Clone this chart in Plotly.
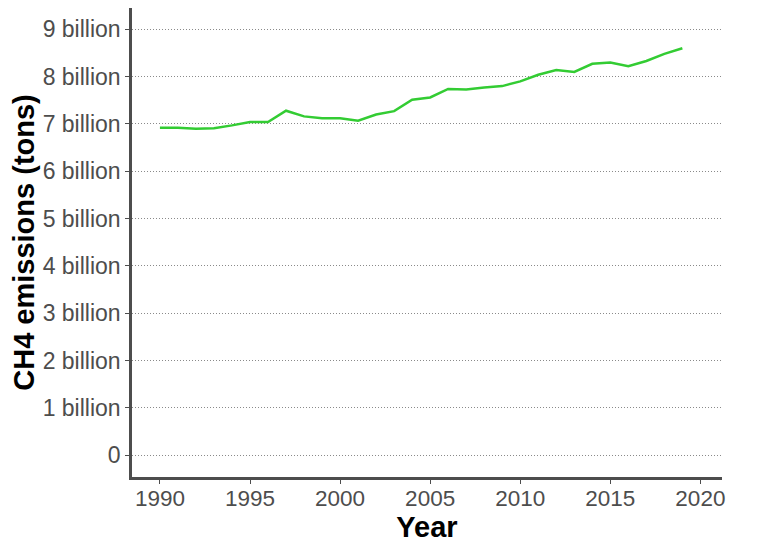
import plotly.graph_objects as go

# CH4 emissions by year (tons)
years = list(range(1990, 2020))
emissions = [
    6.92e9, 6.92e9, 6.90e9, 6.91e9, 6.97e9, 7.04e9, 7.04e9, 7.28e9, 7.16e9, 7.12e9,
    7.12e9, 7.07e9, 7.20e9, 7.27e9, 7.51e9, 7.56e9, 7.74e9, 7.73e9, 7.77e9, 7.80e9,
    7.90e9, 8.04e9, 8.14e9, 8.10e9, 8.27e9, 8.30e9, 8.22e9, 8.33e9, 8.48e9, 8.60e9,
]

y_ticks = [i * 1e9 for i in range(10)]
y_labels = ["0"] + [f"{i} billion" for i in range(1, 10)]
x_ticks = [1990, 1995, 2000, 2005, 2010, 2015, 2020]

axis_color = "#4d4d4d"

fig = go.Figure()
fig.add_trace(go.Scatter(
    x=years, y=emissions,
    mode="lines",
    line=dict(color="#33cc33", width=2.5),
    showlegend=False,
))

# page body has an 8px margin, so the margins are shifted to compensate
fig.update_layout(
    width=768, height=549,
    margin=dict(l=124, r=54, t=0, b=80),
    plot_bgcolor="white",
    paper_bgcolor="white",
    font=dict(family="Liberation Sans, Arial, sans-serif"),
    xaxis=dict(
        range=[1988.45, 2021.2],
        tickvals=x_ticks,
        showgrid=False, zeroline=False,
        showline=True, linecolor=axis_color, linewidth=2.5,
        ticks="outside", ticklen=4, tickcolor=axis_color, tickwidth=1,
        ticklabelstandoff=-5,
        tickfont=dict(size=22.5, color=axis_color),
        title=dict(text="<b>Year</b>", font=dict(size=29, color="black"), standoff=1),
    ),
    yaxis=dict(
        range=[-0.46e9, 9.45e9],
        tickvals=y_ticks, ticktext=y_labels,
        showgrid=True, gridcolor="#8a8a8a", gridwidth=1, griddash="1px,2px",
        zeroline=False, automargin=False,
        showline=True, linecolor=axis_color, linewidth=2.5,
        ticks="outside", ticklen=4, tickcolor=axis_color, tickwidth=1,
        tickfont=dict(size=23, color=axis_color),
        title=dict(text="<b>CH4 emissions (tons)</b>", font=dict(size=29, color="black"), standoff=17),
    ),
)

fig.write_html("out.html")
